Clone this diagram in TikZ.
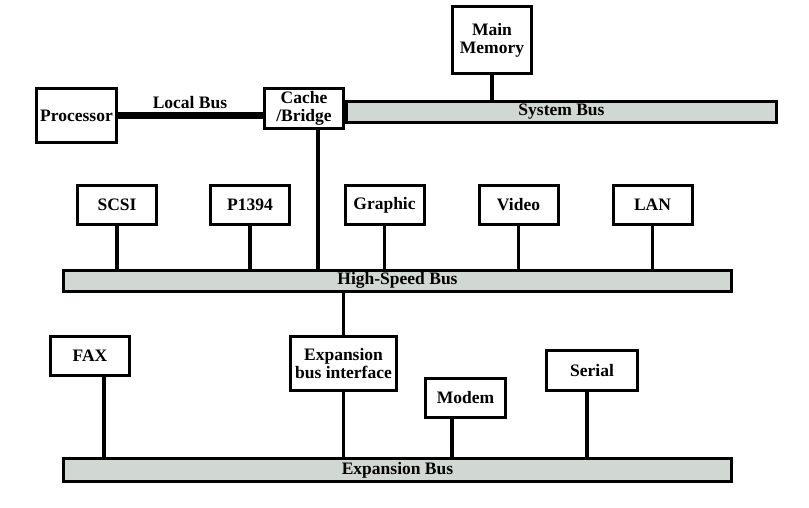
\documentclass[tikz,border=0pt]{standalone}
\usepackage{fontspec}
\setmainfont{Liberation Serif}
\usetikzlibrary{positioning}
\definecolor{busgray}{RGB}{209,215,211}

\begin{document}
\begin{tikzpicture}[x=1pt, y=-1pt, line width=3pt,
	dev/.style={draw, fill=white, align=center, inner sep=0pt, minimum width=79pt, minimum height=39pt},
	bus/.style={draw, fill=busgray, inner sep=0pt, minimum height=21pt},
	link/.style={line width=3.5pt},
	font=\bfseries\fontsize{17.5}{18}\selectfont] % {{{
\useasboundingbox (0,0) rectangle (809,508);
% system bus
\node[bus, minimum width=430pt] (sysbus) at (561.5,112) {System Bus};
\node[dev, minimum width=80pt, minimum height=54pt] (proc) at (76.5,115.5) {Processor};
\node[dev, minimum height=40pt] (cache) at (304,108.5) {Cache\\/Bridge};
\node[dev, minimum height=67pt] (mem) at (492,40) {Main\\Memory};
\draw[line width=7pt] (proc.east) -- (proc.east -| cache.west);
\node (localbus) at (190,103) {Local Bus};
\draw[link] (mem.south) -- (mem.south |- sysbus.north);
% high-speed bus
\node[bus, minimum width=668pt] (hsbus) at (397.5,280.5) {High-Speed Bus};
\draw[link] ([xshift=14pt]cache.south) -- ([xshift=14pt]cache.south |- hsbus.north);
\foreach \name/\lbl/\xx in {scsi/SCSI/117, fire/P1394/250, graphic/Graphic/384.5, video/Video/518.5, lan/LAN/652.5} {
	\node[dev] (\name) at (\xx,205) {\lbl};
	\draw[link] (\name.south) -- (\name.south |- hsbus.north);
}
% expansion bus
\node[bus, minimum width=668pt, minimum height=23pt] (expbus) at (397.5,470) {Expansion Bus};
\node[dev, minimum width=106pt, minimum height=54pt] (expif) at (343.5,363.5) {Expansion\\bus interface};
\draw[link] (expif.north) -- (expif.north |- hsbus.south);
\draw[link] (expif.south) -- (expif.south |- expbus.north);
\node[dev] (fax) at (90,356) {FAX};
\node[dev, minimum width=80pt] (modem) at (465.5,398) {Modem};
\node[dev, minimum width=91pt, minimum height=40pt] (serial) at (592,370.5) {Serial};
\draw[link] ([xshift=14pt]fax.south) -- ([xshift=14pt]fax.south |- expbus.north);
\draw[link] ([xshift=-13.5pt]modem.south) -- ([xshift=-13.5pt]modem.south |- expbus.north);
\draw[link] ([xshift=-5pt]serial.south) -- ([xshift=-5pt]serial.south |- expbus.north);
\end{tikzpicture} % }}}
\end{document}
